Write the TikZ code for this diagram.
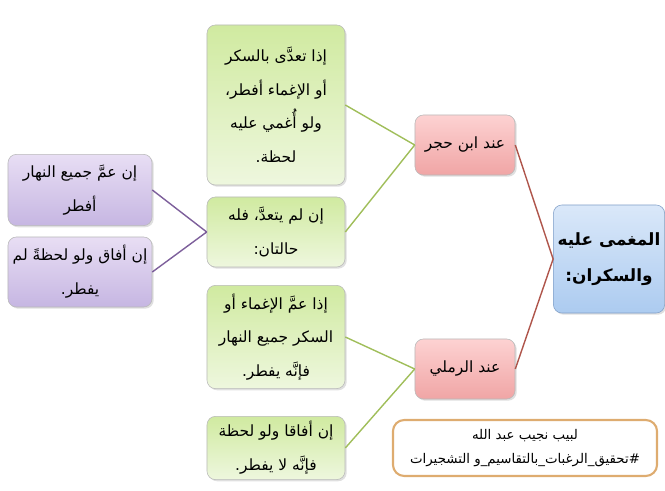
\documentclass[tikz,border=0pt]{standalone}
\usepackage{fontspec}
\newfontfamily\arabicfont[Script=Arabic]{DejaVu Sans}
\TeXXeTstate=1
\usetikzlibrary{shadows}
\definecolor{leaftop}{RGB}{208, 234, 160}
\definecolor{leafbot}{RGB}{238, 247, 222}
\definecolor{leafline}{RGB}{160, 190, 90}
\definecolor{lilactop}{RGB}{232, 222, 244}
\definecolor{lilacbot}{RGB}{198, 182, 226}
\definecolor{lilacline}{RGB}{125, 95, 155}
\definecolor{rosetop}{RGB}{253, 210, 210}
\definecolor{rosebot}{RGB}{240, 165, 165}
\definecolor{roseline}{RGB}{175, 85, 75}
\definecolor{skytop}{RGB}{218, 232, 249}
\definecolor{skybot}{RGB}{172, 203, 240}
\definecolor{skyline}{RGB}{130, 160, 200}
\definecolor{sandline}{RGB}{222, 172, 112}
\newcommand{\rtl}[1]{\beginR #1\endR}

\begin{document}
\begin{tikzpicture}[x=0.025cm, y=-0.025cm,
  box/.style={draw=gray!55, rounded corners=6pt, align=center, inner sep=3pt,
              font=\arabicfont\fontsize{11}{24}\selectfont,
              drop shadow={opacity=0.25, shadow xshift=1.2pt, shadow yshift=-1.2pt}},
  leaf/.style={box, top color=leaftop, bottom color=leafbot, minimum width=3.45cm},
  lilac/.style={box, top color=lilactop, bottom color=lilacbot, minimum width=3.6cm},
  rose/.style={box, top color=rosetop, bottom color=rosebot, minimum width=2.5cm, minimum height=1.5cm},
  link/.style={line width=1pt},
]
\useasboundingbox (0,0) rectangle (665,491);

% Root
\node[box, top color=skytop, bottom color=skybot, draw=skyline, minimum width=2.45cm,
      minimum height=2.7cm, font=\arabicfont\bfseries\fontsize{12}{26}\selectfont] (root) at (609,259)
{\rtl{المغمى عليه}\\\rtl{والسكران:}};

% Scholars
\node[rose] (hajar) at (465,145) {\rtl{عند ابن حجر}};
\node[rose] (ramli) at (465,369) {\rtl{عند الرملي}};

\draw[link, roseline] (root.west) -- (hajar.east);
\draw[link, roseline] (root.west) -- (ramli.east);

% Ibn Hajar branch
\node[leaf, minimum height=4cm] (tada) at (276,105)
{\rtl{إذا تعدَّى بالسكر}\\\rtl{أو الإغماء أفطر،}\\\rtl{ولو أُغمي عليه}\\\rtl{لحظة.}};
\node[leaf, minimum height=1.75cm] (lam) at (276,232)
{\rtl{إن لم يتعدَّ، فله}\\\rtl{حالتان:}};

\draw[link, leafline] (hajar.west) -- (tada.east);
\draw[link, leafline] (hajar.west) -- (lam.east);

% Two cases
\node[lilac, minimum height=1.78cm] (amma) at (80,190)
{\rtl{إن عمَّ جميع النهار}\\\rtl{أفطر}};
\node[lilac, minimum height=1.75cm] (afaq) at (80,272)
{\rtl{إن أفاق ولو لحظةً لم}\\\rtl{يفطر.}};

\draw[link, lilacline] (lam.west) -- (amma.east);
\draw[link, lilacline] (lam.west) -- (afaq.east);

% Ramli branch
\node[leaf, minimum height=2.58cm] (ighma) at (276,337)
{\rtl{إذا عمَّ الإغماء أو}\\\rtl{السكر جميع النهار}\\\rtl{فإنَّه يفطر.}};
\node[leaf, minimum height=1.58cm] (afaqa) at (276,448)
{\rtl{إن أفاقا ولو لحظة}\\\rtl{فإنَّه لا يفطر.}};

\draw[link, leafline] (ramli.west) -- (ighma.east);
\draw[link, leafline] (ramli.west) -- (afaqa.east);

% Signature
\node[draw=sandline, line width=1.5pt, rounded corners=8pt, fill=white, minimum width=6.6cm,
      minimum height=1.4cm, align=center, font=\arabicfont\fontsize{9.5}{17}\selectfont] (sign) at (525,448)
{\rtl{لبيب نجيب عبد الله}\\\rtl{\#\kern0pt\relax تحقيق\_الرغبات\_بالتقاسيم\_و التشجيرات}};
\end{tikzpicture}
\end{document}
